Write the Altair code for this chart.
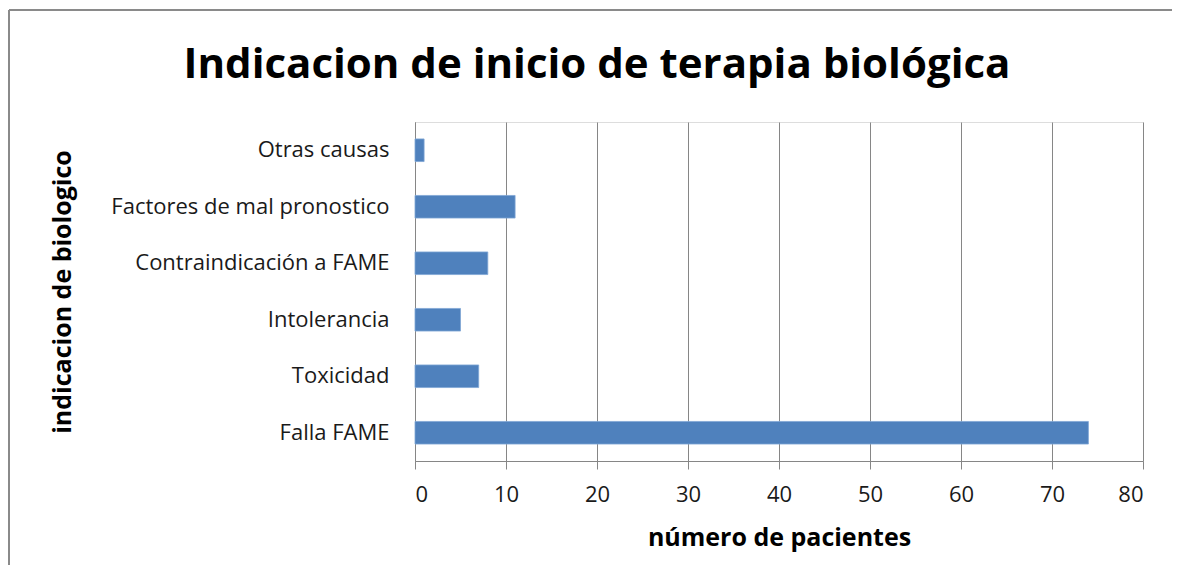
import altair as alt
import pandas as pd

title_text = ["Indicacion de inicio de terapia biológica"]
categories = ["Otras causas", "Factores de mal pronostico", "Contraindicación a FAME",
              "Intolerancia", "Toxicidad", "Falla FAME"]
values = [1, 11, 8, 5, 7, 74]
x_ticks = [0, 10, 20, 30, 40, 50, 60, 70, 80]

df = pd.DataFrame({"indicacion": categories, "pacientes": values})
tdf = pd.DataFrame({"t": title_text})

FONT = "Open Sans"
GRAY = "#868686"

W, H = 728, 339

bars = alt.Chart(df).mark_bar(color="#4F81BD", stroke="#7FA6D4", strokeWidth=0.8).encode(
    x=alt.X("pacientes:Q",
            scale=alt.Scale(domain=[0, 80], nice=False),
            axis=alt.Axis(values=x_ticks, title="número de pacientes", grid=True,
                          gridColor=GRAY, gridWidth=1, domainColor=GRAY, tickColor=GRAY,
                          tickSize=8, labelFontSize=22, labelPadding=15, labelColor="#1a1a1a",
                          labelFont=FONT, titleFont=FONT, titleFontSize=25, titleFontWeight="bold",
                          titleColor="#000000", titleY=76, titleBaseline="middle")),
    y=alt.Y("indicacion:N", sort=categories,
            scale=alt.Scale(paddingInner=0.6, paddingOuter=0.3),
            axis=alt.Axis(title="indicacion de biologico", ticks=False, grid=False,
                          domainColor=GRAY, labelFontSize=22, labelPadding=26, labelColor="#1a1a1a",
                          labelFont=FONT, labelLimit=400, titleFont=FONT, titleFontSize=25,
                          titleFontWeight="bold", titleColor="#000000", titleAngle=-90,
                          titleX=-353, titleY=169.5, titleAlign="center", titleBaseline="middle")),
)

title = alt.Chart(tdf).mark_text(font=FONT, fontSize=42, fontWeight="bold", color="#000000",
                                 align="center", baseline="alphabetic").encode(
    text="t:N", x=alt.value(182), y=alt.value(-44))

frame_top = alt.Chart(tdf).mark_rule(color="#8a8a8a", strokeWidth=2).encode(
    x=alt.value(-406), x2=alt.value(760), y=alt.value(-112))
frame_left = alt.Chart(tdf).mark_rule(color="#8a8a8a", strokeWidth=2).encode(
    x=alt.value(-406), y=alt.value(-112), y2=alt.value(460))

chart = alt.layer(bars, title, frame_top, frame_left).properties(
    width=W, height=H,
    autosize=alt.AutoSizeParams(type="none"),
    padding={"left": 407, "top": 114, "right": 29, "bottom": 104},
).configure_view(strokeWidth=0, stroke="transparent").configure(background="white")

chart.save("out.html", embed_options={"renderer": "svg", "actions": False})
